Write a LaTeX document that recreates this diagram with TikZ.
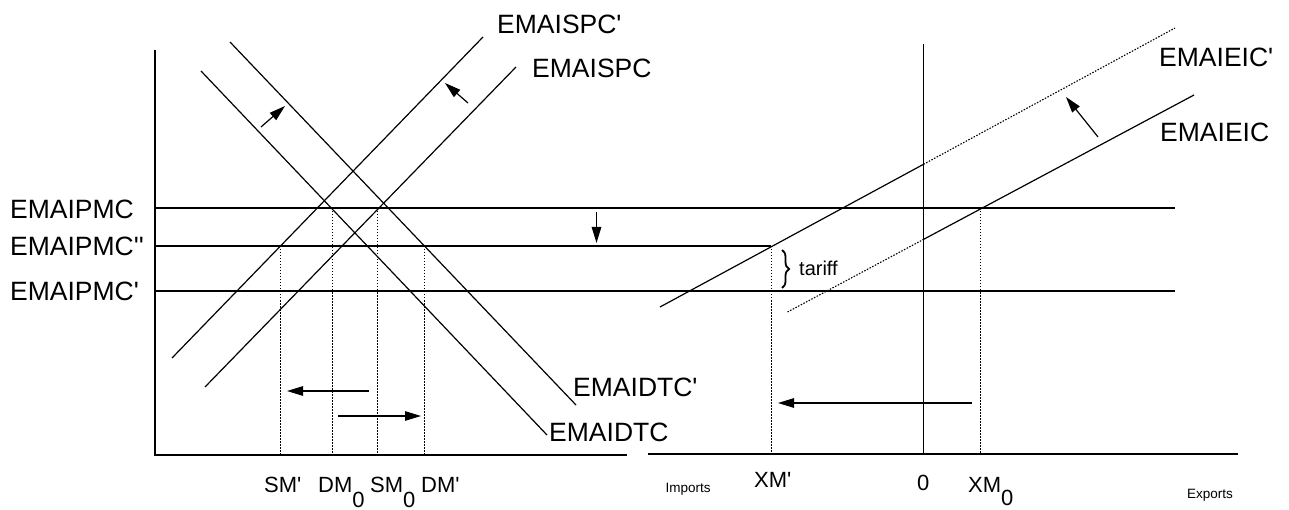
\documentclass[tikz,border=0pt]{standalone}
\usepackage{fontspec}
\setmainfont{Liberation Sans}
\usetikzlibrary{arrows.meta,decorations.pathreplacing}
\newcommand{\aps}{\textquotesingle}
\newcommand{\lowzero}{\raisebox{-15pt}{0}}
\newcommand{\xlowzero}{\raisebox{-13pt}{0}}
\begin{document}
\begin{tikzpicture}[x=1pt,y=-1pt,
  axis/.style={line width=1.6pt},
  curve/.style={line width=1.2pt},
  guide/.style={line width=0.9pt, dash pattern=on 1.5pt off 1.5pt},
  dcurve/.style={line width=1.1pt, dash pattern=on 1.5pt off 1.5pt},
  movearrow/.style={line width=1.2pt, -{Triangle[length=16pt,width=9.5pt]}},
  lab/.style={font=\fontsize{26.5}{30}\selectfont, inner sep=0pt, anchor=west},
  qlab/.style={font=\fontsize{22}{26}\selectfont, inner sep=0pt, anchor=base west},
  small/.style={font=\fontsize{13.5}{16}\selectfont, inner sep=0pt},
]
\useasboundingbox (0,0) rectangle (1289,510);
\fill[white] (0,0) rectangle (1289,510);

% ---- left panel axes
\coordinate (LO) at (155,455);
\coordinate (LT) at (155,50);
\coordinate (LR) at (627,455);
\draw[axis] (LT) -- (LO) -- (LR);

% ---- right panel axes
\coordinate (RO) at (923.5,454);
\coordinate (RT) at (923.5,44);
\coordinate (RL) at (648,454);
\coordinate (RR) at (1238,454);
\draw[axis] (RT) -- (RO);
\draw[axis] (RL) -- (RR);

% ---- price lines
\coordinate (P0a) at (155,208);  \coordinate (P0b) at (1175,208);
\coordinate (P2a) at (155,246);  \coordinate (XMp) at (771,246);
\coordinate (P1a) at (155,291);  \coordinate (P1b) at (1175,291);
\draw[curve] (P0a) -- (P0b);
\draw[curve] (P2a) -- (XMp);
\draw[curve] (P1a) -- (P1b);

% ---- supply and demand curves
\coordinate (S1a) at (172,358); \coordinate (S1b) at (483,37);
\coordinate (S0a) at (205,387); \coordinate (S0b) at (516,67);
\coordinate (D1a) at (230,42);  \coordinate (D1b) at (576,405);
\coordinate (D0a) at (201,71);  \coordinate (D0b) at (547,435);
\draw[curve] (S1a) -- (S1b);
\draw[curve] (S0a) -- (S0b);
\draw[curve] (D1a) -- (D1b);
\draw[curve] (D0a) -- (D0b);

% ---- dotted quantity guides (left)
\draw[guide] (280.5,246) -- (280.5,455);
\draw[guide] (332.5,208) -- (332.5,455);
\draw[guide] (377.5,208) -- (377.5,455);
\draw[guide] (424.5,246) -- (424.5,455);

% ---- export curves (right)
\coordinate (E1a) at (660,307);
\coordinate (E1m) at (923.5,164.3);
\coordinate (E1b) at (1175,28);
\draw[curve] (E1a) -- (E1m);
\draw[dcurve] (E1m) -- (E1b);
\coordinate (E0a) at (787.5,312);
\coordinate (E0m) at (923.5,239.4);
\coordinate (E0b) at (1194,95);
\draw[dcurve] (E0a) -- (E0m);
\draw[curve] (E0m) -- (E0b);

% ---- dotted guides (right)
\draw[guide] (XMp) -- (771,454);
\draw[guide] (980,208) -- (980,454);

% ---- shift arrows
\draw[movearrow] (369,391) -- (287,391);
\draw[movearrow] (338,416) -- (421,416);
\draw[movearrow] (261,127) -- (285,106);
\draw[movearrow] (468,103) -- (445,83);
\draw[movearrow] (596.5,212) -- (596.5,243);
\draw[movearrow] (972,403) -- (778,403);
\draw[movearrow] (1098,137) -- (1066,97);

% ---- tariff brace
\draw[line width=1.8pt, decorate, decoration={brace,amplitude=7pt}] (782,250) -- (782,288);
\node[font=\fontsize{20}{24}\selectfont, inner sep=0pt, anchor=west] (tar) at (799,268) {tariff};

% ---- labels
\node[lab] (lpmc)  at (10,209) {EMAIPMC};
\node[lab] (lpmc2) at (10,246) {EMAIPMC\aps\aps};
\node[lab] (lpmc1) at (10,291) {EMAIPMC\aps};
\node[lab] (lspc1) at (497,24)  {EMAISPC\aps};
\node[lab] (lspc)  at (532,68)  {EMAISPC};
\node[lab] (ldtc1) at (573,387) {EMAIDTC\aps};
\node[lab] (ldtc)  at (549,432) {EMAIDTC};
\node[lab] (leic1) at (1159,57) {EMAIEIC\aps};
\node[lab] (leic)  at (1160,132) {EMAIEIC};

\node[qlab] (qsm1) at (264,492) {SM\aps};
\node[qlab] (qdm0) at (318,492) {DM\lowzero};
\node[qlab] (qsm0) at (370,492) {SM\lowzero};
\node[qlab] (qdm1) at (421,492) {DM\aps};
\node[qlab] (qxm1) at (754,487) {XM\aps};
\node[qlab] (qzero) at (917,490) {0};
\node[qlab] (qxm0) at (968,492) {XM\xlowzero};

\node[small] (limp) at (688,489) {Imports};
\node[small] (lexp) at (1210,495) {Exports};
\end{tikzpicture}
\end{document}
